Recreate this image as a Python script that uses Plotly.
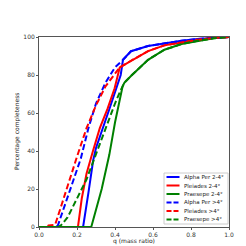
import plotly.graph_objects as go

# Alpha Per 2-4 deg (solid)
aper_q = [0, 0.232, 0.26, 0.285, 0.30, 0.33, 0.37, 0.407, 0.43, 0.442, 0.484, 0.574, 0.66, 0.75, 0.835, 0.92, 1.0]
aper_p = [0, 0, 18, 35, 41.6, 50, 62, 73, 80, 88, 92.5, 95.3, 96.8, 98, 99, 99.6, 100]
# Pleiades 2-4 deg (solid)
plei_q = [0, 0.205, 0.225, 0.25, 0.284, 0.32, 0.36, 0.398, 0.425, 0.484, 0.574, 0.66, 0.75, 0.835, 0.92, 1.0]
plei_p = [0, 0, 15, 28, 40, 52, 62, 73, 84, 87.5, 92.6, 95.6, 97.3, 98.6, 99.5, 100]
# Praesepe 2-4 deg (solid)
prae_q = [0, 0.275, 0.33, 0.37, 0.40, 0.44, 0.45, 0.484, 0.574, 0.66, 0.75, 0.835, 0.92, 1.0]
prae_p = [0, 0, 20, 38, 55, 74, 76, 79.5, 88, 93.3, 96.3, 98, 99.3, 100]
# Alpha Per >4 deg (dashed)
aper4_q = [0, 0.09, 0.1, 0.13, 0.17, 0.22, 0.26, 0.30, 0.35, 0.40, 0.442, 0.484, 0.574, 0.66, 0.75, 0.835, 0.92, 1.0]
aper4_p = [0, 0, 1, 10, 22, 36, 52, 65, 76, 84, 88, 92.5, 95.3, 96.8, 98, 99, 99.6, 100]
# Pleiades >4 deg (dashed)
plei4_q = [0, 0.04, 0.05, 0.085, 0.12, 0.16, 0.20, 0.25, 0.30, 0.35, 0.40, 0.425, 0.484, 0.574, 0.66, 0.75, 0.835, 0.92, 1.0]
plei4_p = [0, 0, 0.8, 1.2, 12, 25, 37, 52, 64, 74, 81, 84, 87.5, 92.6, 95.6, 97.3, 98.6, 99.5, 100]
# Praesepe >4 deg (dashed)
prae4_q = [0, 0.10, 0.117, 0.15, 0.20, 0.25, 0.28, 0.32, 0.36, 0.40, 0.43, 0.45, 0.484, 0.574, 0.66, 0.75, 0.835, 0.92, 1.0]
prae4_p = [0, 0, 1, 5, 15, 25, 33, 44, 55, 65, 72, 76, 79.5, 88, 93.3, 96.3, 98, 99.3, 100]

x_ticks = [0.0, 0.2, 0.4, 0.6, 0.8, 1.0]
x_ticklabels = ["0.0", "0.2", "0.4", "0.6", "0.8", "1.0"]
y_ticks = [0, 20, 40, 60, 80, 100]

names = ["Alpha Per 2-4°", "Pleiades 2-4°", "Praesepe 2-4°",
         "Alpha Per >4°", "Pleiades >4°", "Praesepe >4°"]
xs = [aper_q, plei_q, prae_q, aper4_q, plei4_q, prae4_q]
ys = [aper_p, plei_p, prae_p, aper4_p, plei4_p, prae4_p]
colors = ["#0000ff", "#ff0000", "#008000", "#0000ff", "#ff0000", "#008000"]
dashes = ["solid", "solid", "solid", "6px,3px", "6px,3px", "6px,3px"]

fig = go.Figure()
for name, xq, yp, col, dash in zip(names, xs, ys, colors, dashes):
    fig.add_trace(go.Scatter(x=xq, y=yp, mode="lines", name=name, showlegend=False,
                             line=dict(color=col, width=2, dash=dash)))

# custom compact legend (matplotlib style), in plot-area paper coordinates
L, T, W, H = 31, 29, 190, 190
def px(x): return (x - L) / W
def py(y): return (T + H - y) / H

shapes = [dict(type="rect", xref="paper", yref="paper",
               x0=px(156), x1=px(220), y0=py(216), y1=py(165),
               line=dict(color="#cccccc", width=1), fillcolor="rgba(255,255,255,0.85)", layer="above")]
annotations = []
row_y = [169, 177.5, 186, 194.5, 203, 211.5]
for name, col, dash, ry in zip(names, colors, dashes, row_y):
    shapes.append(dict(type="line", xref="paper", yref="paper",
                       x0=px(158.5), x1=px(171.5), y0=py(ry), y1=py(ry),
                       line=dict(color=col, width=2, dash=dash if dash == "solid" else "5px,2px"),
                       layer="above"))
    annotations.append(dict(xref="paper", yref="paper", x=px(174), y=py(ry),
                            text=name, showarrow=False, xanchor="left", yanchor="middle",
                            font=dict(size=5.5, color="#222222", family="DejaVu Sans")))

# axis titles as annotations placed like the reference
annotations.append(dict(xref="paper", yref="paper", x=0.5, y=py(233), text="q (mass ratio)",
                        showarrow=False, xanchor="center", yanchor="middle",
                        font=dict(size=6, color="#222222", family="DejaVu Sans")))
annotations.append(dict(xref="paper", yref="paper", x=px(9), y=0.5, text="Percentage completeness",
                        showarrow=False, xanchor="center", yanchor="middle", textangle=-90,
                        font=dict(size=6, color="#222222", family="DejaVu Sans")))

axis_common = dict(showgrid=False, zeroline=False, showline=True, linecolor="#555555",
                   linewidth=1, mirror=True, ticks="outside", ticklen=2, tickwidth=1,
                   tickcolor="#555555", automargin=False,
                   tickfont=dict(size=6, color="#333333", family="DejaVu Sans"))

fig.update_layout(
    width=246, height=246,
    margin=dict(l=31, r=25, t=29, b=27, autoexpand=False),
    paper_bgcolor="white", plot_bgcolor="white",
    font=dict(family="DejaVu Sans", size=6, color="#333333"),
    xaxis=dict(range=[0, 1], tickvals=x_ticks, ticktext=x_ticklabels, **axis_common),
    yaxis=dict(range=[0, 100], tickvals=y_ticks, **axis_common),
    shapes=shapes, annotations=annotations,
    showlegend=False,
)

fig.write_html("out.html")
